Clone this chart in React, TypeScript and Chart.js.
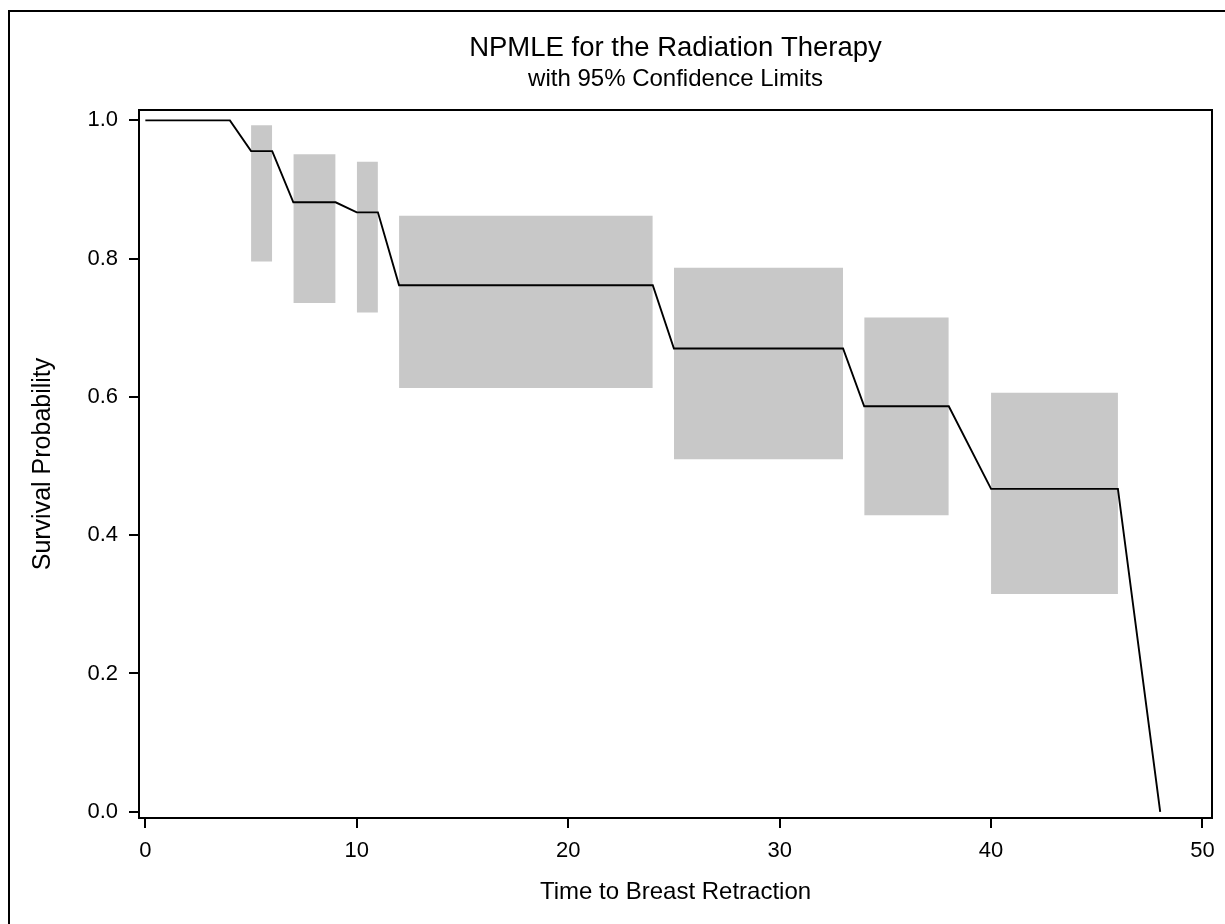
import React, { useEffect, useRef } from "react";
import { Chart, registerables } from "chart.js";

Chart.register(...registerables);

// ---- Data ----
const survTimes = [0, 4, 5, 6, 7, 9, 10, 11, 12, 24, 25, 33, 34, 38, 40, 46, 48];
const survProb = [1, 1, 0.9555, 0.9555, 0.8815, 0.8815, 0.867, 0.867, 0.7615, 0.7615, 0.67, 0.67, 0.5865, 0.5865, 0.467, 0.467, 0];

const boxStart = [5, 7, 10, 12, 25, 34, 40];
const boxEnd = [6, 9, 11, 24, 33, 38, 46];
const boxLower = [0.796, 0.736, 0.722, 0.613, 0.51, 0.429, 0.315];
const boxUpper = [0.993, 0.951, 0.94, 0.862, 0.787, 0.715, 0.606];

const xTicks = [0, 10, 20, 30, 40, 50];
const xTickLabels = ["0", "10", "20", "30", "40", "50"];
const yTicks = [0, 0.2, 0.4, 0.6, 0.8, 1.0];
const yTickLabels = ["0.0", "0.2", "0.4", "0.6", "0.8", "1.0"];

const titleText = "NPMLE for the Radiation Therapy";
const subtitleText = "with 95% Confidence Limits";
const xTitle = "Time to Breast Retraction";
const yTitle = "Survival Probability";

const FONT = "'Liberation Sans', Arial, sans-serif";
const BOX_COLOR = "#c8c8c8";

const framePlugin = {
  id: "frame",
  beforeDraw(chart: any) {
    const { ctx } = chart;
    ctx.save();
    ctx.fillStyle = "#ffffff";
    ctx.fillRect(0, 0, chart.width, chart.height);
    ctx.restore();
  },
  afterDraw(chart: any) {
    const { ctx, chartArea: a } = chart;
    ctx.save();
    ctx.strokeStyle = "#000";
    ctx.lineWidth = 2;
    ctx.strokeRect(a.left, a.top, a.right - a.left, a.bottom - a.top);
    ctx.beginPath();
    ctx.moveTo(9, chart.height);
    ctx.lineTo(9, 11);
    ctx.lineTo(chart.width, 11);
    ctx.stroke();
    ctx.restore();
  },
};

export default function App() {
  const ref = useRef<HTMLCanvasElement>(null);

  useEffect(() => {
    const canvas = ref.current;
    if (!canvas) return;

    const boxDatasets = boxStart.map((s, i) => ({
      type: "line" as const,
      data: [
        { x: s, y: boxUpper[i] },
        { x: boxEnd[i], y: boxUpper[i] },
      ],
      borderWidth: 0,
      borderColor: "rgba(0,0,0,0)",
      backgroundColor: BOX_COLOR,
      pointRadius: 0,
      fill: { value: boxLower[i] },
      order: 2,
    }));

    const lineDataset = {
      type: "line" as const,
      data: survTimes.map((t, i) => ({ x: t, y: survProb[i] })),
      borderColor: "#000",
      borderWidth: 1.9,
      pointRadius: 0,
      fill: false,
      tension: 0,
      order: 0,
    };

    const chart = new Chart(canvas, {
      type: "line",
      data: { datasets: [lineDataset, ...boxDatasets] as any },
      options: {
        responsive: false,
        animation: false,
        devicePixelRatio: 1,
        layout: { padding: { top: 0, left: 0, right: 13, bottom: 0 } },
        plugins: {
          legend: { display: false },
          tooltip: { enabled: false },
          title: {
            display: true,
            text: titleText,
            fullSize: false,
            color: "#000",
            font: { family: FONT, size: 27.5, weight: "normal", lineHeight: 1 },
            padding: { top: 34.75, bottom: 0 },
          },
          subtitle: {
            display: true,
            text: subtitleText,
            fullSize: false,
            color: "#000",
            font: { family: FONT, size: 24, weight: "normal", lineHeight: 1 },
            padding: { top: 5, bottom: 18.75 },
          },
        },
        scales: {
          x: {
            type: "linear",
            min: -0.3,
            max: 50.45,
            afterFit: (scale: any) => {
              scale.height = 106;
            },
            afterBuildTicks: (axis: any) => {
              axis.ticks = xTicks.map((v) => ({ value: v }));
            },
            ticks: {
              color: "#000",
              padding: 10,
              autoSkip: false,
              maxRotation: 0,
              font: { family: FONT, size: 22 },
              callback: (_v: any, i: number) => xTickLabels[i],
            },
            grid: {
              display: true,
              drawOnChartArea: false,
              drawTicks: true,
              tickLength: 10,
              color: "#000",
              lineWidth: 2,
            },
            border: { display: true, color: "#000", width: 2 },
            title: {
              display: true,
              text: xTitle,
              color: "#000",
              font: { family: FONT, size: 24, lineHeight: 1.2 },
              padding: { top: 0, bottom: 17.6 },
            },
          },
          y: {
            type: "linear",
            min: -0.009,
            max: 1.015,
            afterFit: (scale: any) => {
              scale.width = 139;
            },
            afterBuildTicks: (axis: any) => {
              axis.ticks = yTicks.map((v) => ({ value: v }));
            },
            ticks: {
              color: "#000",
              padding: 11,
              autoSkip: false,
              font: { family: FONT, size: 22 },
              callback: (_v: any, i: number) => yTickLabels[i],
            },
            grid: {
              display: true,
              drawOnChartArea: false,
              drawTicks: true,
              tickLength: 10,
              color: "#000",
              lineWidth: 2,
            },
            border: { display: true, color: "#000", width: 2 },
            title: {
              display: true,
              text: yTitle,
              color: "#000",
              font: { family: FONT, size: 25, lineHeight: 1.2 },
              padding: { top: 28, bottom: 0 },
            },
          },
        },
      },
      plugins: [framePlugin],
    } as any);

    return () => chart.destroy();
  }, []);

  return (
    <div style={{ position: "fixed", left: 0, top: 0, width: 1225, height: 924, background: "#fff" }}>
      <canvas ref={ref} width={1225} height={924} style={{ display: "block" }} />
    </div>
  );
}
